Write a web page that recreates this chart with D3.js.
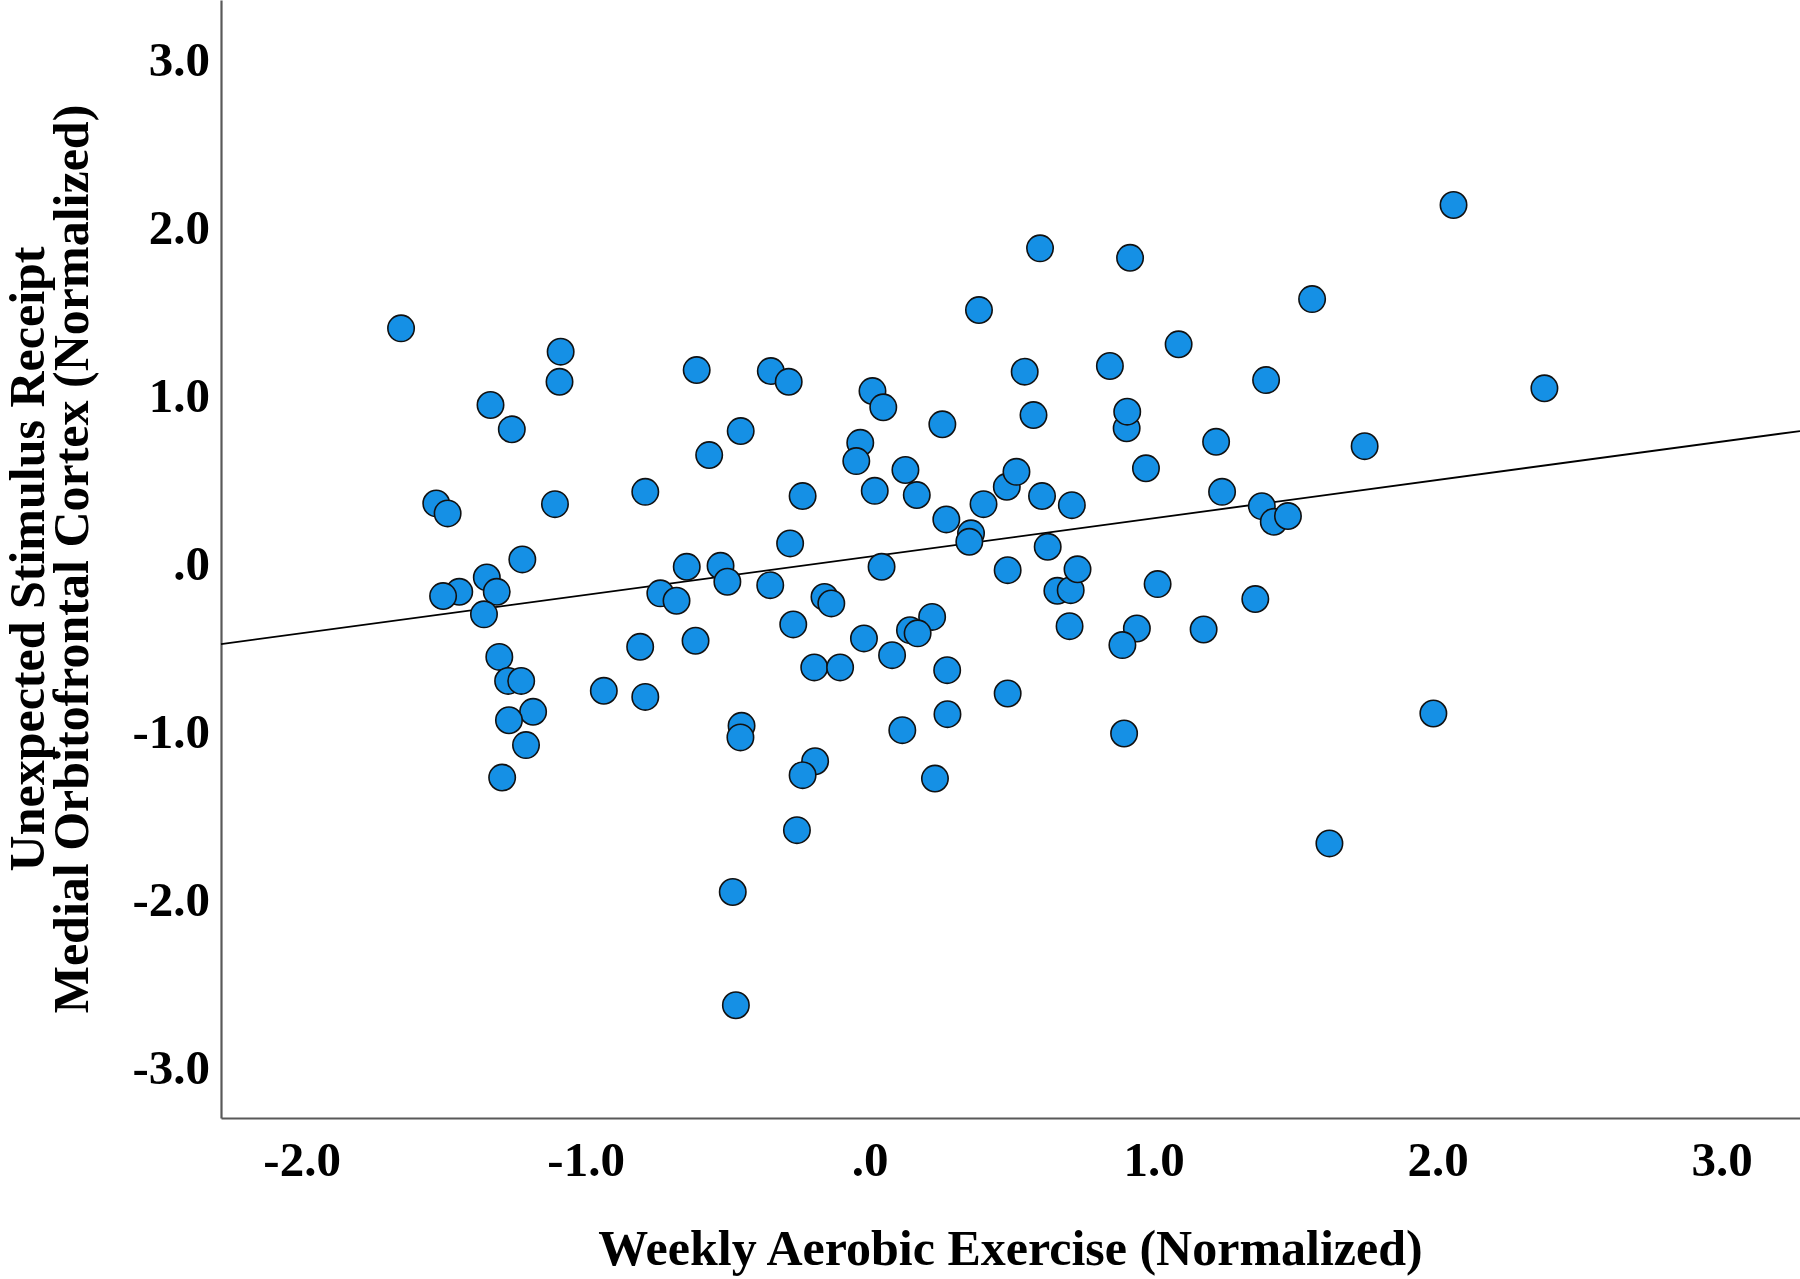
<!DOCTYPE html>
<html>
<head>
<meta charset="utf-8">
<script src="https://cdn.jsdelivr.net/npm/d3@7"></script>
<style>
  body { margin: 0; background: #fff; }
  text { font-family: "Liberation Serif", "Times New Roman", serif; font-weight: bold; fill: #000; }
</style>
</head>
<body>
<div id="chart"></div>
<script>
// Weekly aerobic exercise (x) vs. mOFC response (y), both normalized
const exercise = [
  -1.650, -1.088, -1.092, -1.335, -1.260, -1.526, -1.486, -1.108, -1.223, -1.348,
  -1.313, -1.445, -1.502, -1.358, -1.304, -1.273, -1.227, -1.185, -1.270, -1.210,
  -1.294,
  -0.609, -0.565, -0.790, -0.454, -0.348, -0.285, -0.236, -0.280, -0.644, -0.525,
  -0.501, -0.737, -0.680, -0.350, -0.808, -0.613, -0.269, -0.159, -0.135, -0.936,
  -0.790, -0.195, -0.104, -0.451, -0.455, -0.192, -0.236, -0.256, -0.482, -0.471,
  0.010, 0.048, -0.033, -0.047, 0.018, 0.126, 0.166, 0.256, 0.042, 0.270,
  0.357, 0.351, 0.401, -0.020, 0.220, 0.142, 0.169, 0.079, 0.273, 0.274,
  0.115, 0.230, 0.483, 0.517, 0.486, 0.486,
  0.600, 0.385, 0.546, 0.577, 0.607, 0.627, 0.712, 0.661, 0.708, 0.732,
  0.704, 0.846, 0.917, 0.905, 0.907, 0.973, 0.941, 0.890, 0.896, 1.014,
  1.088, 1.176, 1.220, 1.241, 1.358, 1.396, 1.381, 1.423, 1.473, 1.558,
  1.743, 1.619, 1.985, 2.056, 2.376
];
const mofc = [
  1.394, 1.255, 1.076, 0.938, 0.793, 0.352, 0.293, 0.348, 0.019, -0.088,
  -0.174, -0.174, -0.199, -0.308, -0.561, -0.704, -0.704, -0.888, -0.938, -1.086,
  -1.279,
  1.146, 0.640, 0.421, 0.783, 1.140, 1.076, 0.396, 0.114, -0.025, -0.019,
  -0.114, -0.183, -0.227, -0.134, -0.501, -0.465, -0.368, -0.204, -0.243, -0.763,
  -0.799, -0.624, -0.624, -0.971, -1.040, -1.182, -1.265, -1.592, -1.960, -2.634,
  1.021, 0.924, 0.713, 0.604, 0.427, 0.551, 0.402, 0.823, -0.025, 0.257,
  0.174, 0.124, 0.348, -0.451, -0.323, -0.402, -0.421, -0.551, -0.640, -0.902,
  -0.997, -1.285, 0.451, 0.540, -0.045, -0.779,
  1.870, 1.503, 1.136, 0.878, 0.396, 0.094, 0.342, -0.168, -0.164, -0.040,
  -0.378, 1.170, 1.814, 0.799, 0.898, 0.561, -0.392, -0.491, -1.017, -0.128,
  1.299, -0.398, 0.719, 0.421, -0.217, 1.086, 0.336, 0.243, 0.277, 1.568,
  0.693, -1.671, -0.898, 2.128, 1.037
];

// fit line: y = intercept + slope * x
const fitIntercept = 0.036;
const fitSlope = 0.228;

const xTicks = [-2, -1, 0, 1, 2, 3];
const xTickLabels = ["-2.0", "-1.0", ".0", "1.0", "2.0", "3.0"];
const yTicks = [-3, -2, -1, 0, 1, 2, 3];
const yTickLabels = ["-3.0", "-2.0", "-1.0", ".0", "1.0", "2.0", "3.0"];

const xTitle = "Weekly Aerobic Exercise (Normalized)";
const yTitle = ["Unexpected Stimulus Receipt", "Medial Orbitofrontal Cortex (Normalized)"];

//SVG size and margins
const svgWidth = 1800;
const svgHeight = 1279;
const margin = { top: 0, right: 0, bottom: 161, left: 221 };
const width = svgWidth - margin.left - margin.right;
const height = svgHeight - margin.top - margin.bottom;

const svg = d3.select("#chart")
    .append("svg")
    .attr("width", svgWidth)
    .attr("height", svgHeight);

svg.append("rect")
    .attr("width", svgWidth)
    .attr("height", svgHeight)
    .attr("fill", "#fff");

const chart = svg.append("g")
    .attr("transform", `translate(${margin.left}, ${margin.top})`);

//Scales
const x = d3.scaleLinear()
    .domain([-2.284, 3.276])
    .range([0, width]);

const y = d3.scaleLinear()
    .domain([-3.305, 3.348])
    .range([height, 0]);

//Axes
const xAxis = d3.axisBottom(x)
    .tickValues(xTicks)
    .tickFormat((d, i) => xTickLabels[i])
    .tickSize(0)
    .tickPadding(23);

const yAxis = d3.axisLeft(y)
    .tickValues(yTicks)
    .tickFormat((d, i) => yTickLabels[i])
    .tickSize(0)
    .tickPadding(11);

const gx = chart.append("g")
    .attr("transform", `translate(0, ${height})`)
    .call(xAxis);

const gy = chart.append("g")
    .call(yAxis);

[gx, gy].forEach(g => {
    g.select(".domain").attr("stroke", "#595959").attr("stroke-width", 2.2);
    g.selectAll("text")
        .attr("font-size", "49px")
        .attr("font-family", "Liberation Serif, serif")
        .attr("font-weight", "bold")
        .attr("fill", "#000");
});
gy.selectAll("text").attr("dy", "0.34em");

//Fit line
const xd = x.domain();
chart.append("line")
    .attr("x1", x(xd[0]))
    .attr("y1", y(fitIntercept + fitSlope * xd[0]))
    .attr("x2", x(xd[1]))
    .attr("y2", y(fitIntercept + fitSlope * xd[1]))
    .attr("stroke", "#000")
    .attr("stroke-width", 1.8);

//Points
const points = exercise.map((v, i) => ({ x: v, y: mofc[i] }));
chart.selectAll("circle")
    .data(points)
    .enter()
    .append("circle")
    .attr("cx", d => x(d.x))
    .attr("cy", d => y(d.y))
    .attr("r", 13.2)
    .attr("fill", "#1590e5")
    .attr("stroke", "#111")
    .attr("stroke-width", 1.6);

//Axis titles
svg.append("text")
    .attr("x", margin.left + width / 2)
    .attr("y", 1265)
    .attr("text-anchor", "middle")
    .attr("font-size", "50px")
    .text(xTitle);

const yLabel = svg.append("text")
    .attr("transform", `translate(44, ${margin.top + height / 2}) rotate(-90)`)
    .attr("text-anchor", "middle")
    .attr("font-size", "50px");
yLabel.append("tspan").attr("x", 0).attr("y", 0).text(yTitle[0]);
yLabel.append("tspan").attr("x", 0).attr("y", 44).text(yTitle[1]);
</script>
</body>
</html>
